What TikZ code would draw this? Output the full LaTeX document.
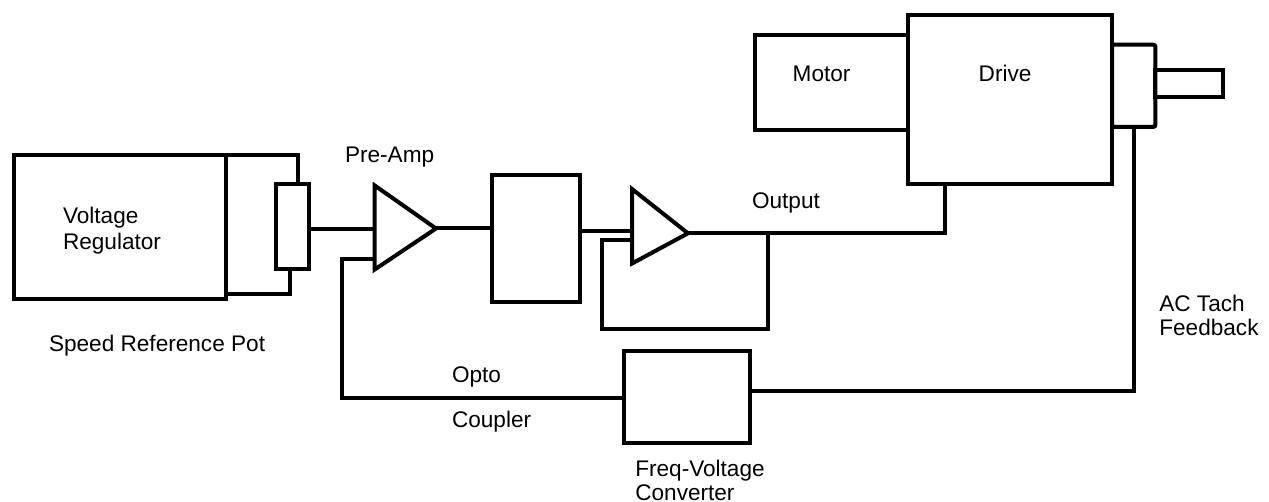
\documentclass[tikz,border=0pt]{standalone}
\usepackage{fontspec}
\setmainfont{Liberation Sans}
\begin{document}
\begin{tikzpicture}[x=1pt,y=-1pt,line width=4pt,line join=miter,
  blk/.style={draw,line width=4pt,inner sep=0pt,outer sep=0pt,rectangle},
  lbl/.style={anchor=base west,inner sep=0pt,font=\fontsize{22.6}{25}\selectfont}]
\useasboundingbox (0,0) rectangle (1269,502);
% blocks
\node[blk,minimum width=212pt,minimum height=144pt] (vr) at (120,227) {};
\node[blk,minimum width=33pt,minimum height=85pt] (pot) at (292.5,227) {};
\node[blk,minimum width=87.7pt,minimum height=127.3pt] (filt) at (535.85,238.35) {};
\node[blk,minimum width=126pt,minimum height=91.4pt] (fvc) at (686.7,397) {};
\node[blk,minimum width=152.4pt,minimum height=95pt] (motor) at (831.5,82.2) {};
\node[blk,minimum width=204.3pt,minimum height=169pt] (drive) at (1009.85,99.2) {};
\node[blk,rounded corners=2pt,minimum width=43.3pt,minimum height=82.2pt] (enc) at (1133.65,85.8) {};
\node[blk,minimum width=67.4pt,minimum height=26.7pt] (shaft) at (1189,83.65) {};
% amplifiers
\coordinate (a1t) at (374.7,185.5);
\coordinate (a1b) at (374.7,269.5);
\coordinate (a1o) at (436,228.5);
\coordinate (a1p) at (374.7,229);
\coordinate (a1n) at (374.7,259.3);
\draw (a1t) -- (a1o) -- (a1b) -- cycle;
\coordinate (a2t) at (632,189);
\coordinate (a2b) at (632,263.5);
\coordinate (a2o) at (688,233.3);
\coordinate (a2p) at (632,231);
\coordinate (a2n) at (632,240);
\draw (a2t) -- (a2o) -- (a2b) -- cycle;
\coordinate (tap) at (768.3,233.3);
% wires
\draw (vr.north east) -| ([xshift=5.5pt]pot.north);
\draw ([yshift=5pt]vr.south east) -| ([xshift=-2.5pt]pot.south);
\draw (pot.east |- a1p) -- (a1p);
\draw (a1o) -- (filt.west |- a1o);
\draw (filt.east |- a2p) -- (a2p);
\draw (a2o) -| ([xshift=-65.15pt]drive.south);
\draw (a2n) -| (602.3,329.3) -| (tap);
\draw (enc.south) |- ([yshift=6pt]fvc.east);
\draw (a1n) -- ++(-32.7,0) |- ([yshift=-1pt]fvc.west);
% labels
\node[lbl] (tv) at (61,224) {Voltage};
\node[lbl] (tr) at (61,250) {Regulator};
\node[lbl] (tpre) at (343,162.5) {Pre-Amp};
\node[lbl] (tspd) at (47,352) {Speed Reference Pot};
\node[lbl] (tout) at (750,209) {Output};
\node[lbl] (tmot) at (790.7,82) {Motor};
\node[lbl] (tdrv) at (976.7,82) {Drive};
\node[lbl] (topto) at (450,382.5) {Opto};
\node[lbl] (tcoup) at (450,427.5) {Coupler};
\node[lbl] (tfv) at (633.3,476) {Freq-Voltage};
\node[lbl] (tconv) at (633.3,500) {Converter};
\node[lbl] (tac) at (1157.3,312) {AC Tach};
\node[lbl] (tfb) at (1157.3,335.5) {Feedback};
\end{tikzpicture}
\end{document}
